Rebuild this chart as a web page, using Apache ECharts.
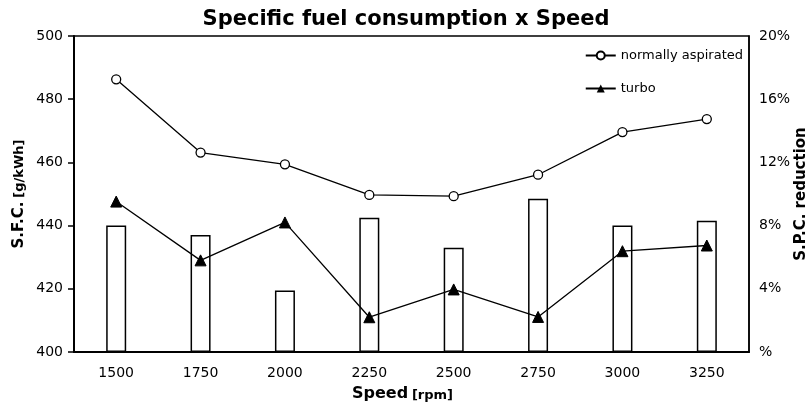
<!DOCTYPE html>
<html>
<head>
<meta charset="utf-8">
<script src="https://cdn.jsdelivr.net/npm/echarts@6/dist/echarts.min.js"></script>
<style>
  html, body { margin: 0; padding: 0; background: #fff; }
  #chart { width: 812px; height: 408px; }
</style>
</head>
<body>
<div id="chart"></div>
<script>
// speed categories (rpm)
const speeds = ["1500", "1750", "2000", "2250", "2500", "2750", "3000", "3250"];
// specific fuel consumption, g/kWh
const normallyAspirated = [486.3, 463.1, 459.4, 449.7, 449.3, 456.1, 469.6, 473.7];
const turbo = [447.6, 429.0, 441.0, 411.0, 419.8, 411.1, 431.9, 433.7];
// S.P.C. reduction, %
const reduction = [8.0, 7.4, 3.9, 8.5, 6.6, 9.7, 8.0, 8.3];

const font = "DejaVu Sans";
const chart = echarts.init(document.getElementById("chart"));

chart.setOption({
  animation: false,
  textStyle: { fontFamily: font, color: "#000" },
  title: {
    text: "Specific fuel consumption x Speed",
    left: "center",
    top: 4,
    textStyle: { fontFamily: font, fontSize: 21, fontWeight: "bold", color: "#000" },
  },
  grid: {
    left: 74,
    right: 63,
    top: 36,
    bottom: 56,
    outerBoundsMode: "none",
    containLabel: false,
    show: true,
    borderColor: "#000",
    borderWidth: 1.5,
  },
  legend: {
    data: ["normally aspirated", "turbo"],
    orient: "vertical",
    right: 64,
    top: 44,
    itemGap: 20,
    itemWidth: 30,
    itemHeight: 10,
    textStyle: { fontFamily: font, fontSize: 13, color: "#000" },
  },
  xAxis: {
    type: "category",
    data: speeds,
    name: "{b|Speed} {s|[rpm]}",
    nameLocation: "middle",
    nameGap: 34,
    nameMoveOverlap: false,
    nameTextStyle: {
      padding: [0, 18, 0, 0],
      rich: {
        b: { fontFamily: font, fontSize: 16, fontWeight: "bold", color: "#000" },
        s: { fontFamily: font, fontSize: 13, fontWeight: "bold", color: "#000", padding: [3, 0, 0, 0] },
      },
    },
    axisLine: { lineStyle: { color: "#000", width: 2 } },
    axisTick: { show: false },
    axisLabel: { fontFamily: font, fontSize: 14, color: "#000", margin: 14 },
  },
  yAxis: [
    {
      type: "value",
      min: 400,
      max: 500,
      interval: 20,
      name: "{b|S.F.C.} {s|[g/kWh]}",
      nameLocation: "middle",
      nameRotate: 90,
      nameGap: 47,
      nameMoveOverlap: false,
      nameTextStyle: {
        rich: {
          b: { fontFamily: font, fontSize: 15, fontWeight: "bold", color: "#000" },
          s: { fontFamily: font, fontSize: 13, fontWeight: "bold", color: "#000" },
        },
      },
      axisLine: { show: true, lineStyle: { color: "#000", width: 2 } },
      axisTick: { show: true, length: 6, lineStyle: { color: "#000", width: 1.5 } },
      axisLabel: { fontFamily: font, fontSize: 14, color: "#000", margin: 11 },
      splitLine: { show: false },
    },
    {
      type: "value",
      min: 0,
      max: 20,
      interval: 4,
      position: "right",
      name: "S.P.C. reduction",
      nameLocation: "middle",
      nameRotate: 90,
      nameGap: 45,
      nameMoveOverlap: false,
      nameTextStyle: { fontFamily: font, fontSize: 15, fontWeight: "bold", color: "#000" },
      axisLine: { show: true, lineStyle: { color: "#000", width: 1.5 } },
      axisTick: { show: false },
      axisLabel: {
        fontFamily: font,
        fontSize: 14,
        color: "#000",
        margin: 10,
        formatter: (v) => (v === 0 ? "%" : v + "%"),
      },
      splitLine: { show: false },
    },
  ],
  series: [
    {
      name: "reduction",
      type: "bar",
      yAxisIndex: 1,
      data: reduction,
      barWidth: 20,
      itemStyle: { color: "#fff", borderColor: "#000", borderWidth: 1.5 },
      z: 1,
    },
    {
      name: "normally aspirated",
      type: "line",
      data: normallyAspirated,
      symbol: "circle",
      symbolSize: 9,
      showAllSymbol: true,
      lineStyle: { color: "#000", width: 1.3 },
      itemStyle: { color: "#fff", borderColor: "#000", borderWidth: 1.3 },
      z: 3,
    },
    {
      name: "turbo",
      type: "line",
      data: turbo,
      symbol: "triangle",
      symbolSize: 11,
      showAllSymbol: true,
      lineStyle: { color: "#000", width: 1.3 },
      itemStyle: { color: "#000", borderColor: "#000" },
      z: 3,
    },
  ],
});
</script>
</body>
</html>
